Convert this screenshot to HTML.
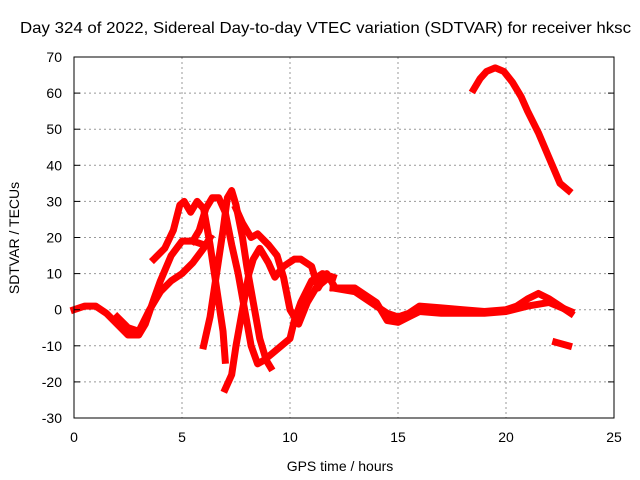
<!DOCTYPE html>
<html><head><meta charset="utf-8"><style>
body{margin:0;background:#fff}
svg{display:block;font-family:"Liberation Sans",sans-serif}
</style></head><body>
<svg id="chart" width="640" height="480" viewBox="0 0 640 480">
<text x="20" y="33" font-size="16" textLength="611" lengthAdjust="spacingAndGlyphs">Day 324 of 2022, Sidereal Day-to-day VTEC variation (SDTVAR) for receiver hksc</text>
<g id="grid"></g>
<g id="series"></g>
<rect x="74" y="57" width="540" height="361" fill="none" stroke="#000" stroke-width="1"/>
<g id="ticks"></g>
<text x="340" y="471" text-anchor="middle" font-size="14">GPS time / hours</text>
<text transform="translate(19,238) rotate(-90)" text-anchor="middle" font-size="14">SDTVAR / TECUs</text>
</svg>
<script>
const xTicks=[0,5,10,15,20,25];
const yTicks=[-30,-20,-10,0,10,20,30,40,50,60,70];
const t1=[[0,0],[0.5,1],[1,1],[1.5,-1],[2,-4],[2.5,-7],[3,-7],[3.3,-4],[3.7,3],[4,8],[4.5,15],[5,19],[5.5,19],[6,18]];
const t2=[[2,-2],[2.5,-5],[3,-6],[3.5,0],[4,5],[4.5,8],[5,10],[5.5,13],[6,17],[6.3,20]];
const t3=[[3.7,14],[4.2,17],[4.6,22],[4.9,29],[5.1,30],[5.4,27],[5.7,30],[6,28],[6.3,18],[6.6,6],[6.9,-6],[7,-14]];
const t4=[[5.5,19],[5.8,22],[6.1,28],[6.4,31],[6.7,31],[7,27],[7.3,18],[7.6,10],[7.9,0],[8.2,-10],[8.5,-15],[8.8,-14],[9.2,-12],[9.6,-10],[10,-8],[10.2,-3],[10.5,2],[11,8],[11.5,10],[12,9]];
const t5=[[6,-10],[6.3,-2],[6.6,10],[6.9,22],[7.1,31],[7.3,33],[7.5,29],[7.8,20],[8,12],[8.3,2],[8.6,-8],[8.9,-14],[9.1,-16]];
const t6=[[7,-22],[7.3,-18],[7.5,-10],[7.8,0],[8.1,10],[8.3,14],[8.6,17],[9,13],[9.3,9],[9.7,12],[10.2,14],[10.5,14],[11,12],[11.3,6],[11.7,10],[12,7]];
const t7=[[7.5,28],[7.8,24],[8.2,20],[8.5,21],[9,18],[9.4,15],[9.7,9],[10,0],[10.4,-4],[10.8,2],[11.2,6],[11.6,8]];
const t8=[[12,6],[13,5],[13.5,3],[14,1],[14.5,-1],[15,-2],[15.5,-1],[16,1],[17,0.5],[18,0],[19,-0.5],[20,0],[20.5,1],[21,3],[21.5,4.5],[22,3],[22.5,1],[23,-1]];
const t9=[[12,6],[13,6],[14,2],[14.5,-3],[15,-3.5],[15.5,-2],[16,-0.5],[17,-1],[18,-1],[19,-1],[20,-0.5],[21,1],[22,2],[23,-0.5]];
const t10=[[18.5,61],[18.8,64],[19.1,66],[19.5,67],[19.9,66],[20.3,63],[20.7,59],[21,55],[21.5,49],[22,42],[22.5,35],[22.9,33]];
const t11=[[22.3,-9],[22.9,-10]];
const allSeries=[t1,t2,t3,t4,t5,t6,t7,t8,t9,t10,t11];
const X=h=>74+h*540/25, Y=v=>57+(70-v)*361/100;
const NS="http://www.w3.org/2000/svg";
const grid=document.getElementById('grid'),ticks=document.getElementById('ticks'),ser=document.getElementById('series');
function mk(p,tag,a){const e=document.createElementNS(NS,tag);for(const k in a)e.setAttribute(k,a[k]);p.appendChild(e);return e;}
xTicks.forEach(t=>{const x=X(t);
 if(t>0&&t<25){const g=mk(grid,'line',{x1:x,y1:57,x2:x,y2:418,stroke:'#999','stroke-dasharray':'2,3'});
 
 }
 const l=mk(ticks,'text',{x:x,y:442,'text-anchor':'middle','font-size':'14'});l.textContent=t;
 
 
});
yTicks.forEach(t=>{const y=Y(t);
 if(t>-30&&t<70){const g=mk(grid,'line',{x1:74,y1:y,x2:614,y2:y,stroke:'#999','stroke-dasharray':'2,3'});
 
 }
 mk(ticks,'line',{x1:74,y1:y,x2:80,y2:y,stroke:'#000'});
 mk(ticks,'line',{x1:608,y1:y,x2:614,y2:y,stroke:'#000'});
 const l=mk(ticks,'text',{x:62,y:y+5,'text-anchor':'end','font-size':'14'});l.textContent=t;
 
 
});
allSeries.forEach((s,i)=>{
 const p=mk(ser,'polyline',{points:s.map(d=>X(d[0])+','+Y(d[1])).join(' '),fill:'none',stroke:'#f00','stroke-width':'7','stroke-linejoin':'round','stroke-linecap':'square'});
 
 
});
</script>
</body></html>
